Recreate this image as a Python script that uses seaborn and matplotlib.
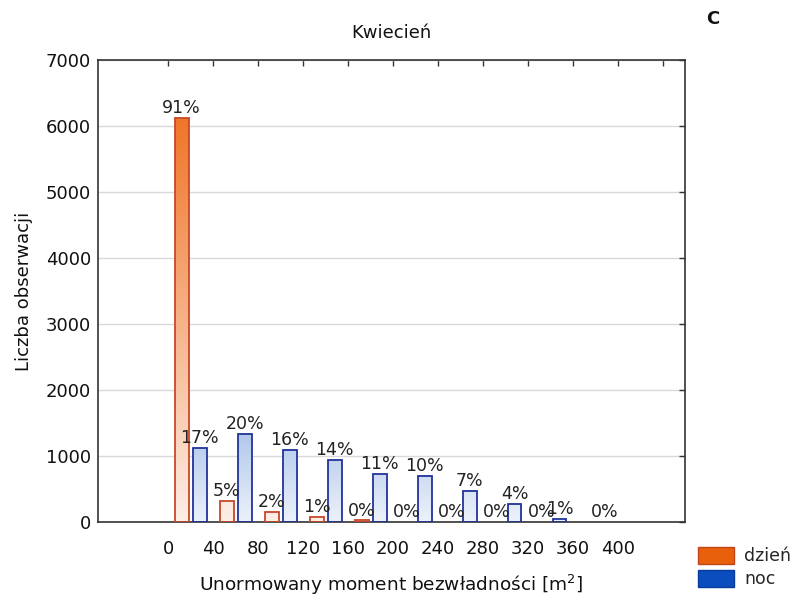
import numpy as np
import pandas as pd
import matplotlib
matplotlib.use("Agg")
import matplotlib.pyplot as plt
import seaborn as sns
from matplotlib.colors import LinearSegmentedColormap, Normalize
from matplotlib.patches import Patch

# Histogram classes (40 m^2 wide) and counts of observations
bin_edges = [0, 40, 80, 120, 160, 200, 240, 280, 320, 360, 400]
bins = ["0-40", "40-80", "80-120", "120-160", "160-200", "200-240",
        "240-280", "280-320", "320-360", "360-400"]
dzien = [6121, 318, 152, 76, 25, 0, 0, 0, 0]
noc = [1121, 1333, 1091, 939, 727, 697, 470, 273, 45, 0]
series = ["dzień", "noc"]
y_ticks = [0, 1000, 2000, 3000, 4000, 5000, 6000, 7000]

df = pd.concat([
    pd.DataFrame({"przedział": bins[:len(dzien)], "liczba": dzien, "pora": "dzień"}),
    pd.DataFrame({"przedział": bins[:len(noc)], "liczba": noc, "pora": "noc"}),
], ignore_index=True)

sns.set_theme(style="white")
plt.rcParams["font.family"] = ["DejaVu Sans"]
plt.rcParams["mathtext.fontset"] = "dejavusans"

fig = plt.figure(figsize=(7.98, 6.0), dpi=100)
ax = fig.add_axes([98 / 798, 1 - 522 / 600, (685 - 98) / 798, (522 - 60) / 600])

sns.barplot(data=df, x="przedział", y="liczba", hue="pora", order=bins,
            hue_order=series, dodge=True, width=0.8, gap=0.225,
            errorbar=None, legend=False, ax=ax)

# Vertical gradient fills, edge colours and percentage labels
styles = {
    "dzień": dict(cmap=LinearSegmentedColormap.from_list("d", ["#fdeee6", "#ef7426"]),
                  vmax=6200, edge="#c9472a", total=sum(dzien)),
    "noc": dict(cmap=LinearSegmentedColormap.from_list("n", ["#ecf2fb", "#afc6ea"]),
                vmax=1400, edge="#22339a", total=sum(noc)),
}
for cont, name in zip(ax.containers, series):
    st = styles[name]
    for p in cont:
        x0, w, h = p.get_x(), p.get_width(), p.get_height()
        if np.isnan(h):
            continue
        if h > 0:
            grad = np.linspace(0, h, 256).reshape(-1, 1)
            ax.imshow(grad, extent=[x0, x0 + w, 0, h], origin="lower",
                      cmap=st["cmap"], norm=Normalize(0, st["vmax"]),
                      aspect="auto", interpolation="bilinear", zorder=2)
            p.set_facecolor("none")
            p.set_edgecolor(st["edge"])
            p.set_linewidth(1.3)
            p.set_zorder(3)
        else:
            p.set_visible(False)
        pct = int(round(100 * h / st["total"]))
        ax.annotate(f"{pct}%", (x0 + w / 2, h), xytext=(0, 0.5),
                    textcoords="offset points", ha="center", va="bottom",
                    fontsize=12.5, color="#222222", zorder=4)

# Axes, ticks on all four sides pointing inward
edge_pos = [k - 0.5 for k in range(len(bin_edges) + 1)]
ax.set_xlim(-2.06, 10.99)
ax.set_ylim(0, 7000)
ax.set_xticks(edge_pos)
ax.set_xticklabels([str(e) for e in bin_edges] + [""])
ax.set_yticks(y_ticks)
ax.set_yticklabels([str(t) for t in y_ticks])
ax.tick_params(axis="both", direction="in", length=4, width=1, color="#333333",
               top=True, right=True, labelsize=13, labelcolor="#111111")
ax.tick_params(axis="x", pad=13)
ax.tick_params(axis="y", pad=5)
ax.yaxis.grid(True, color="#d9d9d9", linewidth=1)
ax.set_axisbelow(True)
for s in ax.spines.values():
    s.set_color("#333333")
    s.set_linewidth(1.2)

ax.set_xlabel("Unormowany moment bezwładności [m$^2$]", fontsize=13.3, labelpad=11,
              color="#111111")
ax.set_ylabel("Liczba obserwacji", fontsize=13, labelpad=9, color="#111111")
ax.set_title("Kwiecień", fontsize=13, pad=16, color="#111111")
fig.text(713 / 798, 1 - 19 / 600, "C", fontsize=13, fontweight="bold",
         ha="center", va="center", color="#111111")

handles = [Patch(facecolor="#e8600c", edgecolor="#c0451a", label="dzień"),
           Patch(facecolor="#0a4dbe", edgecolor="#0a3a9a", label="noc")]
fig.legend(handles=handles, loc="upper left", bbox_to_anchor=(698 / 798, 1 - 547 / 600),
           frameon=False, fontsize=12.5, handlelength=2.1, handleheight=1.15,
           borderpad=0, borderaxespad=0, labelspacing=0.25, handletextpad=0.55)

fig.savefig("out.png", dpi=100)
